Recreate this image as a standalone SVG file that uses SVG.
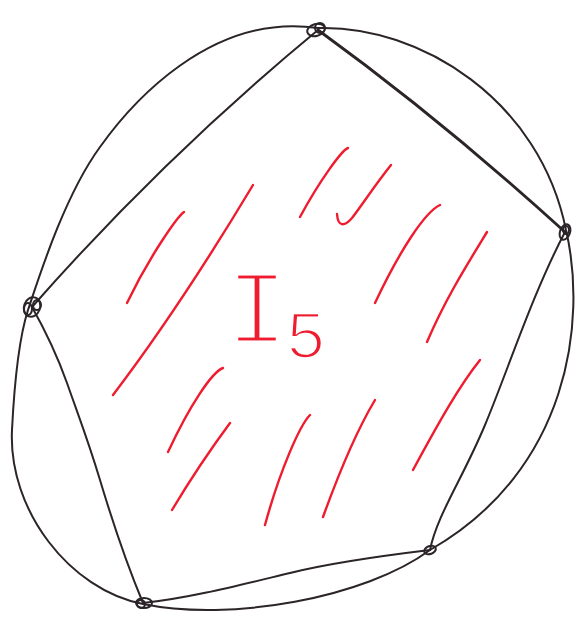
<svg xmlns="http://www.w3.org/2000/svg" width="580" height="619" viewBox="0 0 580 619">
<style>
.ink{fill:none;stroke:#2b2428;stroke-width:2;stroke-linecap:round;stroke-linejoin:round}
.thick{stroke-width:2.8}
.knot{fill:none;stroke:#2b2428;stroke-width:2}
.hatch{fill:none;stroke:#ee1c2e;stroke-width:2.4;stroke-linecap:round}
.lbl{fill:#ee1c2e;stroke:#ffffff;paint-order:normal;font-family:"Liberation Mono",monospace;text-anchor:middle}
</style>
<rect width="580" height="619" fill="#ffffff"/>
<g id="connectors">
<path id="outer" class="ink" d="M318,28 C420,25 540,100 566,230 C587,320 570,470 430,550 C365,598 230,622 143,604 C70,590 8,510 12,430 C15,370 20,335 28,310 C40,274 65,195 100,147 C130,105 210,12 318,28 Z"/>
<path id="e1" class="ink thick" d="M318,30 Q442,120 565,232"/>
<path id="e2" class="ink" d="M565,232 C532,295 508,370 485,425 C462,480 437,515 430,550"/>
<path id="e3" class="ink" d="M430,550 C380,556 330,563 290,573 C240,585 190,598 143,603"/>
<path id="e4" class="ink" d="M143,603 C125,560 112,520 100,480 C88,440 80,420 67,383 C57,355 45,330 32,307"/>
<path id="e5" class="ink" d="M32,307 Q164,157 318,30"/>
</g>
<g id="v1"><ellipse class="knot" cx="316" cy="30" rx="9" ry="6" transform="rotate(-15 316 30)"/><ellipse class="knot" cx="320" cy="28" rx="5" ry="5"/></g>
<g id="v2"><ellipse class="knot" cx="565" cy="232" rx="5" ry="8" transform="rotate(20 565 232)" stroke-width="3.5"/><ellipse class="knot" cx="566" cy="230" rx="3" ry="4"/></g>
<g id="v3"><ellipse class="knot" cx="430" cy="550" rx="6" ry="4" transform="rotate(-20 430 550)"/></g>
<g id="v4"><ellipse class="knot" cx="144" cy="603" rx="8" ry="5"/><ellipse class="knot" cx="141" cy="604" rx="4" ry="4"/></g>
<g id="v5"><ellipse class="knot" cx="32" cy="307" rx="8" ry="10" transform="rotate(20 32 307)"/><ellipse class="knot" cx="28" cy="309" rx="4" ry="6"/><ellipse class="knot" cx="37" cy="305" rx="4" ry="5"/></g>
<g id="hatching">
<path class="hatch" d="M184,212 C178,216 150,255 127,303"/>
<path class="hatch" d="M253,185 C220,240 170,320 113,395"/>
<path class="hatch" d="M348,148 C342,150 320,180 300,217"/>
<path class="hatch" d="M391,165 C375,185 362,205 352,218 C345,226 338,228 337,214"/>
<path class="hatch" d="M440,205 C425,212 400,250 375,303"/>
<path class="hatch" d="M487,232 C465,268 445,300 427,342"/>
<path class="hatch" d="M223,368 C212,372 190,405 168,452"/>
<path class="hatch" d="M230,423 C210,450 190,480 172,510"/>
<path class="hatch" d="M310,415 C300,425 280,470 265,525"/>
<path class="hatch" d="M375,400 C360,425 340,470 323,517"/>
<path class="hatch" d="M480,360 C460,385 440,420 413,470"/>
</g>
<g id="label">
<text class="lbl" x="257" y="343" font-size="106" stroke-width="5">I</text>
<text class="lbl" x="306" y="358" font-size="68" stroke-width="2.5">5</text>
</g>
</svg>
